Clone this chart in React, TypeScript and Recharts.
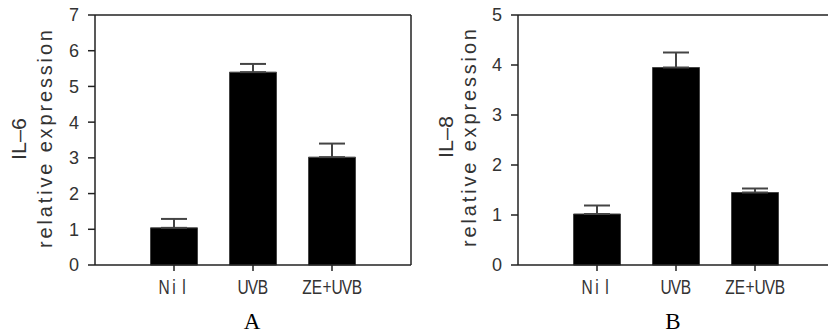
import React from 'react';
import { BarChart, Bar, XAxis, YAxis, ErrorBar, ReferenceLine } from 'recharts';

const categories = ['Nil', 'UVB', 'ZE+UVB'];
const positions = [1, 2, 3];
const il6Mean = [1.04, 5.4, 3.02];
const il6Err = [0.25, 0.23, 0.38];
const il8Mean = [1.02, 3.95, 1.45];
const il8Err = [0.17, 0.3, 0.08];
const il6Ticks = [0, 1, 2, 3, 4, 5, 6, 7];
const il8Ticks = [0, 1, 2, 3, 4, 5];
const xTicks = [1, 2, 3];

const dataA = categories.map((c, i) => ({ x: positions[i], name: c, v: il6Mean[i], e: [0, il6Err[i]] }));
const dataB = categories.map((c, i) => ({ x: positions[i], name: c, v: il8Mean[i], e: [0, il8Err[i]] }));

const AX = '#222';
const SANS = '"Liberation Sans", Arial, sans-serif';
const CELL = 10;
const SQ = 0.74;

const XTick = (props: any) => {
  const { x, y, payload } = props;
  const idx = positions.indexOf(payload.value);
  const label = idx >= 0 ? categories[idx] : '';
  const chars = label.split('');
  const start = -(chars.length * CELL) / 2;
  return (
    <g transform={`translate(${x},${y + 21}) scale(${SQ},1)`}>
      <text textAnchor="middle" fontFamily={SANS} fontSize={21} fill="#333">
        {chars.map((ch, i) => (
          <tspan key={i} x={(start + i * CELL + CELL / 2) / SQ}>{ch}</tspan>
        ))}
      </text>
    </g>
  );
};

const yTickStyle = { fill: '#333', fontSize: 18, fontFamily: SANS };

function Panel({ data, ticks, max, width, yWidth, right }: any) {
  return (
    <BarChart width={width} height={334} data={data} margin={{ top: 15, right, left: 0, bottom: 39 }}>
      <XAxis
        dataKey="x"
        type="number"
        domain={[0, 4]}
        ticks={xTicks}
        height={30}
        tickSize={6}
        tickMargin={2}
        stroke={AX}
        strokeWidth={1.5}
        tick={<XTick />}
        allowDataOverflow
      />
      <YAxis
        type="number"
        domain={[0, max]}
        ticks={ticks}
        width={yWidth}
        tickSize={7}
        tickMargin={9}
        stroke={AX}
        strokeWidth={1.5}
        tick={yTickStyle}
        interval={0}
      />
      <ReferenceLine y={max} stroke={AX} strokeWidth={1.5} ifOverflow="visible" />
      <ReferenceLine x={4} stroke={AX} strokeWidth={1.5} ifOverflow="visible" />
      <Bar dataKey="v" fill="#000" stroke="#444" strokeWidth={1} barSize={47} isAnimationActive={false}>
        <ErrorBar dataKey="e" width={13} stroke="#444" strokeWidth={2} direction="y" />
      </Bar>
    </BarChart>
  );
}

export default function App() {
  return (
    <div style={{ position: 'absolute', left: 0, top: 0, width: 828, height: 334, overflow: 'hidden', background: '#fff' }}>
      <div style={{ position: 'absolute', left: 0, top: 0 }}>
        <Panel data={dataA} ticks={il6Ticks} max={7} width={430} yWidth={95} right={19} />
      </div>
      <div style={{ position: 'absolute', left: 414, top: 0 }}>
        <Panel data={dataB} ticks={il8Ticks} max={5} width={440} yWidth={104} right={20} />
      </div>
      <svg width={828} height={334} style={{ position: 'absolute', left: 0, top: 0, pointerEvents: 'none' }}>
        <g fontFamily={SANS} fontSize={20} fill="#333">
          <text transform="translate(19,139) rotate(-90)" textAnchor="middle" dominantBaseline="central" textLength={42} lengthAdjust="spacingAndGlyphs">IL–6</text>
          <text transform="translate(45,139) rotate(-90)" textAnchor="middle" dominantBaseline="central" textLength={218} lengthAdjust="spacing">relative expression</text>
          <text transform="translate(446,137) rotate(-90)" textAnchor="middle" dominantBaseline="central" textLength={42} lengthAdjust="spacingAndGlyphs">IL–8</text>
          <text transform="translate(469,138) rotate(-90)" textAnchor="middle" dominantBaseline="central" textLength={218} lengthAdjust="spacing">relative expression</text>
        </g>
        <g fontFamily='"Liberation Serif", "Times New Roman", serif' fontSize={23} fill="#000">
          <text x={252} y={329} textAnchor="middle">A</text>
          <text x={673} y={329} textAnchor="middle">B</text>
        </g>
      </svg>
    </div>
  );
}
